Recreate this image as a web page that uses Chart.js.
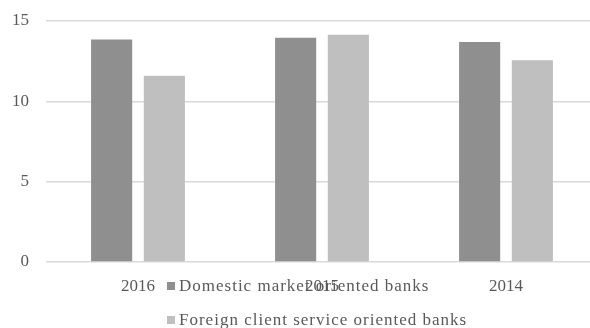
<!DOCTYPE html>
<html>
<head>
<meta charset="utf-8">
<script src="https://cdn.jsdelivr.net/npm/chart.js@4.4.1/dist/chart.umd.min.js"></script>
<style>
  html, body { margin: 0; padding: 0; background: #fff; overflow: hidden; }
  #wrap { position: relative; width: 600px; height: 328px; }
  #legend { position: absolute; left: 167px; top: 269px; font-family: "Liberation Serif", serif; font-size: 17px; letter-spacing: 1px; color: #595959; }
  #legend .row { height: 34px; display: flex; align-items: center; white-space: nowrap; }
  #legend .box { width: 8px; height: 8px; margin-right: 4px; }
</style>
</head>
<body>
<div id="wrap">
  <canvas id="myChart" width="600" height="328"></canvas>
  <div id="legend"></div>
</div>
<script>
const years = ['2016', '2015', '2014'];
const domestic = [13.85, 13.95, 13.7];
const foreign = [11.6, 14.15, 12.55];
const seriesNames = ['Domestic market oriented banks', 'Foreign client service oriented banks'];
const yTicks = [0, 5, 10, 15];

const colors = ['#8f8f8f', '#bfbfbf'];
const font = { family: '"Liberation Serif", serif', size: 17 };

// the original text is a bit spread out
document.getElementById('myChart').getContext('2d').letterSpacing = '1px';

const chart = new Chart('myChart', {
  type: 'bar',
  data: {
    labels: years,
    datasets: [
      {
        label: seriesNames[0],
        data: domestic,
        backgroundColor: colors[0],
        barPercentage: 0.78,
        categoryPercentage: 0.573,
      },
      {
        label: seriesNames[1],
        data: foreign,
        backgroundColor: colors[1],
        barPercentage: 0.78,
        categoryPercentage: 0.573,
      },
    ],
  },
  options: {
    responsive: false,
    animation: false,
    layout: { padding: { top: 21, right: 2, bottom: 0, left: 0 } },
    plugins: {
      legend: { display: false },
      tooltip: { enabled: false },
    },
    scales: {
      x: {
        afterFit: (axis) => { axis.height = 66; },
        grid: { display: false },
        border: { display: false },
        ticks: { color: '#595959', font, padding: 6 },
      },
      y: {
        min: 0,
        max: 15,
        afterBuildTicks: (axis) => { axis.ticks = yTicks.map((v) => ({ value: v })); },
        afterFit: (axis) => {
          axis.width = 46;
          axis.paddingTop = 0;
          axis.paddingBottom = 0;
        },
        grid: { color: '#d9d9d9', lineWidth: 1.5, drawTicks: false },
        border: { display: false },
        ticks: { color: '#595959', font, padding: 17 },
      },
    },
  },
});

// legend sits under the axis, over the year labels like in the original
const legendEl = document.getElementById('legend');
chart.data.datasets.forEach((ds) => {
  const row = document.createElement('div');
  row.className = 'row';
  const box = document.createElement('span');
  box.className = 'box';
  box.style.background = ds.backgroundColor;
  const txt = document.createElement('span');
  txt.textContent = ds.label;
  row.appendChild(box);
  row.appendChild(txt);
  legendEl.appendChild(row);
});
</script>
</body>
</html>
